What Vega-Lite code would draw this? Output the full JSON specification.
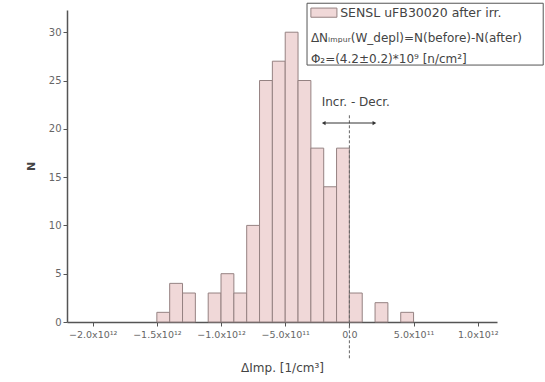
{
  "$schema": "https://vega.github.io/schema/vega-lite/v6.json",
  "width": 430,
  "height": 312,
  "autosize": "none",
  "padding": {"left": 67, "top": 10, "right": 48, "bottom": 60},
  "background": "white",
  "config": {
    "view": {"stroke": null},
    "font": "DejaVu Sans",
    "axis": {"grid": false, "domainColor": "#555", "domainWidth": 1.5, "tickColor": "#555", "labelColor": "#666", "labelFont": "DejaVu Sans", "titleFont": "DejaVu Sans", "titleColor": "#444"}
  },
  "layer": [
    {
      "data": {"values": [
        {"start": -1.5e12, "end": -1.4e12, "n": 1},
        {"start": -1.4e12, "end": -1.3e12, "n": 4},
        {"start": -1.3e12, "end": -1.2e12, "n": 3},
        {"start": -1.1e12, "end": -1.0e12, "n": 3},
        {"start": -1.0e12, "end": -0.9e12, "n": 5},
        {"start": -0.9e12, "end": -0.8e12, "n": 3},
        {"start": -0.8e12, "end": -0.7e12, "n": 10},
        {"start": -0.7e12, "end": -0.6e12, "n": 25},
        {"start": -0.6e12, "end": -0.5e12, "n": 27},
        {"start": -0.5e12, "end": -0.4e12, "n": 30},
        {"start": -0.4e12, "end": -0.3e12, "n": 25},
        {"start": -0.3e12, "end": -0.2e12, "n": 18},
        {"start": -0.2e12, "end": -0.1e12, "n": 14},
        {"start": -0.1e12, "end": 0, "n": 18},
        {"start": 0, "end": 0.1e12, "n": 3},
        {"start": 0.2e12, "end": 0.3e12, "n": 2},
        {"start": 0.4e12, "end": 0.5e12, "n": 1}
      ]},
      "mark": {"type": "rect", "fill": "#f0d8d8", "stroke": "#958282", "strokeWidth": 1},
      "encoding": {
        "x": {"field": "start", "type": "quantitative",
          "scale": {"domain": [-2.2e12, 1.15e12], "nice": false, "zero": false},
          "axis": {"title": "ΔImp. [1/cm³]", "titleFontSize": 12, "titleFontWeight": "normal", "titlePadding": 24,
            "values": [-2e12, -1.75e12, -1.5e12, -1.25e12, -1e12, -7.5e11, -5e11, -2.5e11, 0, 2.5e11, 5e11, 7.5e11, 1e12],
            "labelExpr": "abs(datum.value) < 1 ? '0.0' : (abs(datum.value) % 5e11 > 1 ? '' : (abs(datum.value) >= 1e12 ? format(datum.value/1e12, '.1f') + 'x10¹²' : format(datum.value/1e11, '.1f') + 'x10¹¹'))",
            "labelFontSize": 9.5, "tickSize": 4, "labelPadding": 3, "labelFlush": false}},
        "x2": {"field": "end"},
        "y": {"field": "n", "type": "quantitative",
          "scale": {"domain": [0, 32.3], "nice": false},
          "axis": {"title": "N", "titleFontSize": 11, "titleFontWeight": "bold", "titlePadding": 12,
            "values": [0, 2.5, 5, 7.5, 10, 12.5, 15, 17.5, 20, 22.5, 25, 27.5, 30],
            "labelExpr": "datum.value % 5 == 0 ? datum.value : ''",
            "labelFontSize": 10, "tickSize": 4, "labelPadding": 2}},
        "y2": {"datum": 0}
      }
    },
    {
      "data": {"values": [{}]},
      "mark": {"type": "rule", "strokeDash": [3, 2], "color": "#666", "strokeWidth": 1},
      "encoding": {"x": {"datum": 0}, "y": {"datum": 21.4}, "y2": {"datum": -3.9}}
    },
    {
      "data": {"values": [{}]},
      "mark": {"type": "rule", "color": "#333", "strokeWidth": 1},
      "encoding": {"x": {"datum": -2.0e11}, "x2": {"datum": 1.95e11}, "y": {"datum": 20.6}}
    },
    {
      "data": {"values": [{}]},
      "mark": {"type": "point", "shape": "triangle-left", "filled": true, "color": "#333", "size": 18, "opacity": 1},
      "encoding": {"x": {"datum": -2.0e11}, "y": {"datum": 20.6}}
    },
    {
      "data": {"values": [{}]},
      "mark": {"type": "point", "shape": "triangle-right", "filled": true, "color": "#333", "size": 18, "opacity": 1},
      "encoding": {"x": {"datum": 1.95e11}, "y": {"datum": 20.6}}
    },
    {
      "data": {"values": [{}]},
      "mark": {"type": "text", "text": "Incr. - Decr.", "fontSize": 12, "color": "#444", "align": "center", "baseline": "middle"},
      "encoding": {"x": {"datum": 0.5e11}, "y": {"datum": 22.8}}
    },
    {
      "data": {"values": [{}]},
      "mark": {"type": "rect", "fill": "white", "stroke": "#555", "strokeWidth": 1},
      "encoding": {"x": {"datum": -3.3e11}, "x2": {"datum": 1.51e12}, "y": {"datum": 33.0}, "y2": {"datum": 26.6}}
    },
    {
      "data": {"values": [{}]},
      "mark": {"type": "rect", "fill": "#f0d8d8", "stroke": "#958282", "strokeWidth": 1},
      "encoding": {"x": {"datum": -3.0e11}, "x2": {"datum": -0.97e11}, "y": {"datum": 32.5}, "y2": {"datum": 31.55}}
    },
    {
      "data": {"values": [{}]},
      "mark": {"type": "text", "text": "SENSL uFB30020 after irr.", "fontSize": 12.5, "color": "#444", "align": "left", "baseline": "middle"},
      "encoding": {"x": {"datum": -0.72e11}, "y": {"datum": 31.95}}
    },
    {
      "data": {"values": [{}]},
      "mark": {"type": "text", "text": "ΔNᵢₘₚᵤᵣ(W_depl)=N(before)-N(after)", "fontSize": 12, "color": "#444", "align": "left", "baseline": "middle"},
      "encoding": {"x": {"datum": -3.0e11}, "y": {"datum": 29.45}}
    },
    {
      "data": {"values": [{}]},
      "mark": {"type": "text", "text": "Φ₂=(4.2±0.2)*10⁹ [n/cm²]", "fontSize": 12, "color": "#444", "align": "left", "baseline": "middle"},
      "encoding": {"x": {"datum": -3.0e11}, "y": {"datum": 27.25}}
    }
  ]
}
